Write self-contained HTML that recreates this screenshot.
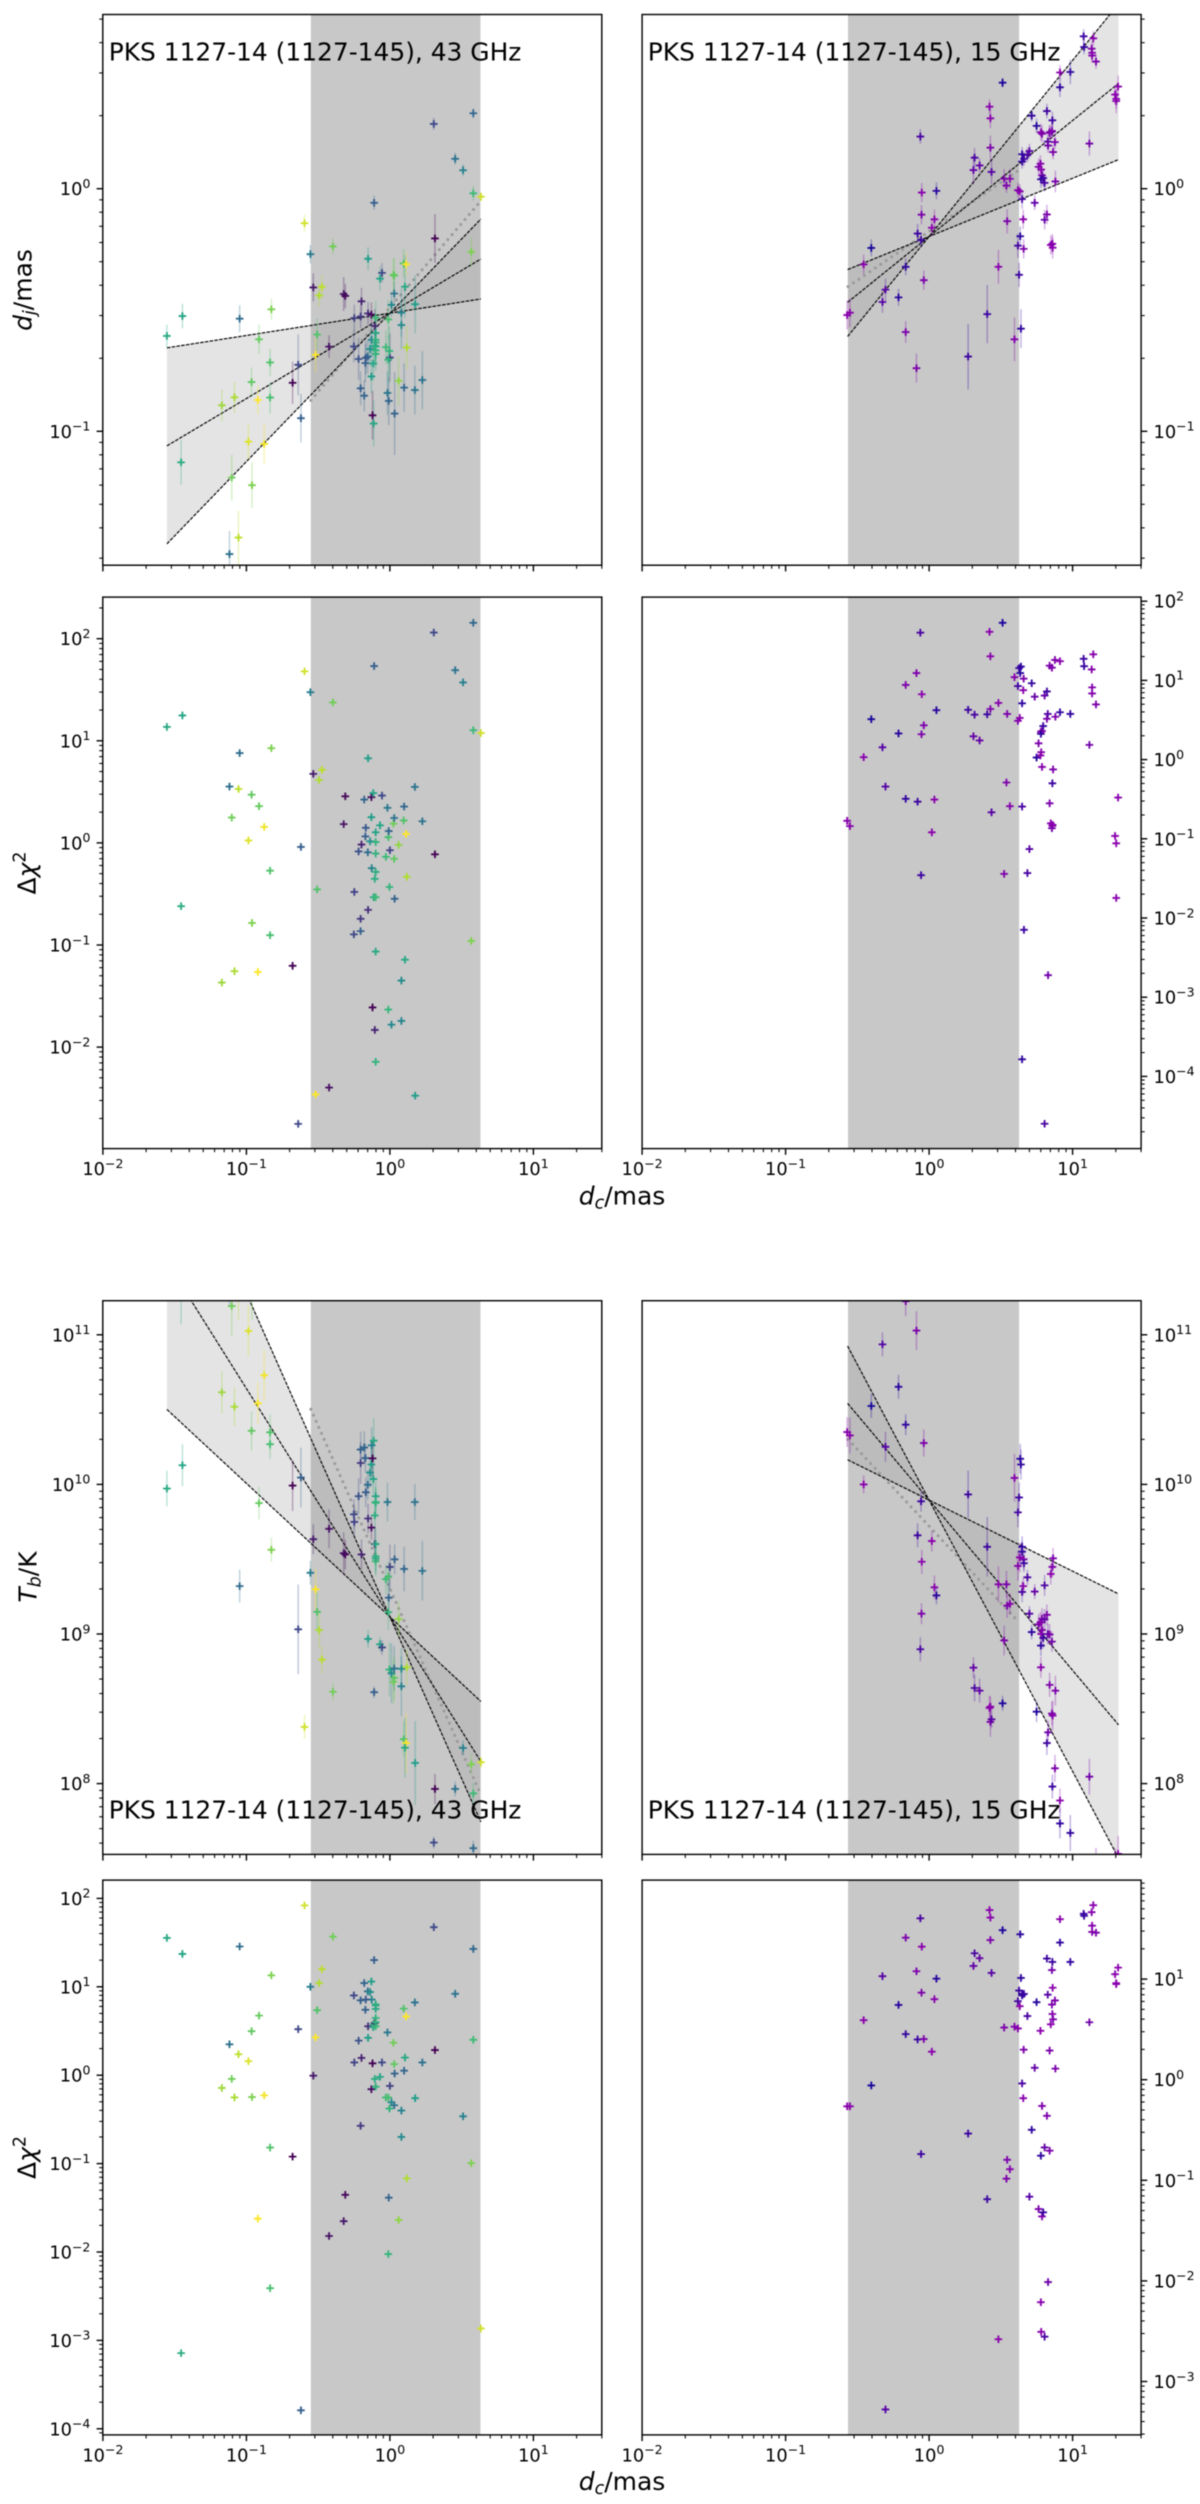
<!DOCTYPE html>
<html lang="en">
<head>
<meta charset="utf-8">
<title>PKS 1127-14 (1127-145) jet profiles at 43 and 15 GHz</title>
<style>
html,body{margin:0;padding:0;background:#fff;}
svg{display:block;filter:blur(0.45px);}
text{font-family:"DejaVu Sans","Liberation Sans",sans-serif;fill:#000;}
</style>
</head>
<body>
<svg id="figure" width="1200" height="2504" viewBox="0 0 1200 2504">
  <rect width="1200" height="2504" fill="#fff"/>

  <g id="panel-a"></g>
  <g id="panel-b"></g>
  <g id="panel-c"></g>
  <g id="panel-d"></g>
  <g id="panel-e"></g>
  <g id="panel-f"></g>
  <g id="panel-g"></g>
  <g id="panel-h"></g>

  <text x="108.7" y="60.5" font-size="24.9">PKS 1127-14 (1127-145), 43 GHz</text>
  <text x="647.8" y="60.5" font-size="24.9">PKS 1127-14 (1127-145), 15 GHz</text>
  <text x="108.7" y="1818.5" font-size="24.9">PKS 1127-14 (1127-145), 43 GHz</text>
  <text x="647.8" y="1818.5" font-size="24.9">PKS 1127-14 (1127-145), 15 GHz</text>

  <text x="31.6" y="290" font-size="25" text-anchor="middle" transform="rotate(-90 31.6 290)"><tspan font-style="italic">d</tspan><tspan font-style="italic" font-size="17.5" dy="4">j</tspan><tspan dy="-4">/mas</tspan></text>
  <text x="35.6" y="873" font-size="25" text-anchor="middle" transform="rotate(-90 35.6 873)">Δ<tspan font-style="italic">χ</tspan><tspan font-size="17.5" dy="-10">2</tspan></text>
  <text x="36.4" y="1577" font-size="25" text-anchor="middle" transform="rotate(-90 36.4 1577)"><tspan font-style="italic">T</tspan><tspan font-style="italic" font-size="17.5" dy="4">b</tspan><tspan dy="-4">/K</tspan></text>
  <text x="35.6" y="2157.5" font-size="25" text-anchor="middle" transform="rotate(-90 35.6 2157.5)">Δ<tspan font-style="italic">χ</tspan><tspan font-size="17.5" dy="-10">2</tspan></text>

  <text x="622" y="1204.5" font-size="25" text-anchor="middle"><tspan font-style="italic">d</tspan><tspan font-style="italic" font-size="17.5" dy="4">c</tspan><tspan dy="-4">/mas</tspan></text>
  <text x="622" y="2490" font-size="25" text-anchor="middle"><tspan font-style="italic">d</tspan><tspan font-style="italic" font-size="17.5" dy="4">c</tspan><tspan dy="-4">/mas</tspan></text>
</svg>

<script>
// ---- 43 GHz data, all in log10 units ----
const logDc43 = [
-1.554,-1.446,-1.455,-1.047,-1.118,-1.171,-1.102,-1.083,-1.055,-.986,
-.964,-.961,-.920,-.912,-.876,-.835,-.835,-.826,-.678,-.639,
-.620,-.595,-.554,-.534,-.518,-.507,-.493,-.474,-.424,-.397,
-.322,-.311,-.248,-.251,-.218,-.204,-.198,-.204,-.179,-.171,
-.152,-.152,-.154,-.138,-.129,-.129,-.127,-.121,-.113,-.116,
-.110,-.105,-.099,-.099,-.105,-.099,-.099,-.069,-.055,-.028,
-.017,-.011,-.008,0,-.003,-.011,.011,.025,.033,.030,
.061,.080,.080,.096,.099,.113,.105,.118,.174,.176,
.226,.306,.314,.455,.510,.567,.581,.581,.634,-.099,
-.099,-.168,-.099,.030];
const epoch43 = [
.60,.58,.62,.35,.37,.85,.78,.87,.90,.95,
.75,.80,1,.76,.98,.72,.70,.80,0,.22,
.30,.93,.42,.07,1,.72,.88,.90,.05,.78,
.06,.02,.20,.22,.25,.17,.10,.30,.32,.30,
.13,.55,.35,.50,.03,.55,.45,0,.60,.58,
.30,.10,.58,.65,.62,.64,.68,.58,.22,.68,
.40,.70,.32,.20,.65,.66,.47,.78,.32,.38,
.83,.45,.48,.72,.33,1,.60,.88,.38,.55,
.38,.22,0,.37,.44,.80,.33,.68,.93,.62,
.60,.28,.65,.75];
const logDj43 = [
-.607,-.525,-1.128,-.536,-1.506,-.893,-1.191,-.860,-1.438,-1.043,
-.797,-1.222,-.871,-.621,-1.052,-.716,-.861,-.497,-.800,-.726,
-.946,-.142,-.270,-.407,-.685,-.601,-.440,-.405,-.651,-.238,
-.434,-.442,-.533,-.650,-.702,-.527,-.464,-.823,-.853,-.719,
-.514,-.289,-.692,-.661,-.519,-.774,-.623,-.934,-.968,-.721,
-.058,-.566,-.595,-.623,-.647,-.681,-.532,-.371,-.347,-.653,
-.842,-.539,-.875,-.696,-.669,-.705,-.479,-.355,-.927,-.432,
-.792,-.511,-.562,-.308,-.820,-.311,-.404,-.655,-.830,-.476,
-.789,.267,-.205,.123,.076,-.260,.311,-.019,-.033,-.634,
-.650,-.697,-.666,-.358];
const djErr43 = [
.046,.05,.092,.055,.095,.066,.095,.065,.11,.073,
.06,.095,.058,.06,.084,.057,.066,.044,.087,.126,
.1,.035,.038,.058,.07,.066,.047,.05,.047,.033,
.07,.05,.055,.066,.087,.047,.055,.07,.065,.08,
.047,.047,.07,.07,.05,.07,.07,.1,.095,.07,
.03,.07,.07,.07,.07,.07,.07,.05,.04,.07,
.09,.08,.1,.1,.1,.1,.05,.07,.17,.05,
.1,.1,.1,.06,.1,.05,.13,.09,.1,.12,
.12,.025,.1,.025,.025,.06,.02,.03,.02,.07,
.07,.07,.07,.07];
const logChiWidth43 = [
1.136,1.248,-.620,.880,.552,-1.368,.248,-1.256,.528,.024,
.472,-.784,-1.264,.360,.156,-.272,-.904,.928,-1.204,-2.752,
-.040,1.680,1.476,.676,-2.464,-.456,.616,.716,-2.396,1.376,
.184,.456,-.480,-.896,-.084,-.744,-.016,-.864,.424,.064,
-.656,.828,-.092,.016,.448,.252,-.248,-1.612,-.532,.488,
1.732,-1.832,.104,.008,-.352,-.104,-.532,.172,.464,-.136,
.344,.056,.116,-.072,-.432,-1.632,-1.780,.188,-.548,.244,
-.020,-1.744,-1.348,.220,.356,.088,-1.144,-.332,.548,-2.476,
.212,2.060,-.112,1.692,1.572,-.960,2.156,1.104,1.076,-.284,
-1.064,.148,-2.144,-.156];
const logTb43 = [
9.972,10.128,11.29,9.320,11.4,10.616,11.192,10.519,11.3,11.026,
10.358,11.3,10.542,9.875,10.729,10.348,10.269,9.563,9.992,9.031,
10.046,8.379,9.409,9.634,9.299,9.148,9.026,8.829,9.703,8.614,
9.540,9.532,9.749,9.800,9.921,10.143,9.532,10.233,10.246,10.176,
9.772,8.967,9.997,10.079,9.711,10.133,10.261,10.174,10.292,10.036,
8.611,9.601,9.921,9.882,9.793,9.519,9.486,8.931,8.910,9.366,
9.882,9.384,9.243,9.448,8.762,9.146,8.737,8.680,9.499,8.770,
9.100,8.650,8.767,8.297,9.435,8.271,8.240,8.778,9.882,8.138,
9.422,7.606,7.964,7.964,8.238,8.130,7.568,7.934,8.143,9.504,
9.601,9.947,9.877,8.706];
const tbErr43 = [
.12,.14,.22,.11,.2,.14,.2,.13,.2,.17,
.13,.2,.14,.11,.17,.12,.1,.08,.17,.3,
.2,.08,.08,.1,.14,.13,.12,.09,.13,.06,
.14,.1,.1,.1,.12,.14,.1,.12,.11,.1,
.1,.06,.1,.1,.08,.1,.12,.12,.15,.1,
.04,.12,.1,.1,.1,.1,.1,.05,.05,.1,
.13,.1,.12,.15,.18,.12,.2,.15,.1,.15,
.12,.2,.14,.12,.15,.2,.2,.12,.12,.28,
.2,.04,.1,.05,.05,.07,.05,.07,.04,.1,
.1,.1,.1,.15];
const logChiTb43 = [
1.553,1.372,-3.144,1.456,.349,-.144,-.042,-.251,.237,.158,
.498,-.247,-1.623,.674,-.228,-.819,-2.409,1.130,-.921,.521,
-3.791,1.921,1.000,-.005,.428,.735,1.042,1.200,-1.819,1.567,
-1.651,-1.353,.144,.902,.391,-.572,.195,.847,1.042,.740,
.553,.423,.949,.940,-.158,1.060,.856,.135,.577,.544,
1.302,.591,.791,.647,-.042,-.130,.553,-.019,.144,-.251,
.484,-.251,-1.386,-.121,-.377,-2.023,-.307,.367,.019,-.340,
-1.637,-.400,-.698,.753,.051,.665,.200,-1.167,.823,-.260,
.144,1.674,.284,.921,-.465,-.995,1.428,.400,-2.865,.8,
.75,.856,.6,.126];

// ---- 15 GHz data, all in log10 units ----
const logDc15 = [
-.571,-.552,-.456,-.403,-.325,-.304,-.213,-.163,-.163,-.088,
-.080,-.061,-.056,-.051,-.053,-.037,.019,.037,.051,.272,
.309,.317,.352,.405,.421,.427,.427,.435,.483,.512,
.523,.539,.544,.563,.595,.627,.619,.619,.632,.635,
.640,.648,.648,.648,.659,.656,.661,.685,.699,.715,
.736,.749,.763,.776,.779,.781,.787,.787,.779,.795,
.805,.805,.821,.821,.827,.829,.840,.856,.859,.848,
.859,.861,.864,.877,.880,.912,.912,.984,1.077,1.080,
1.117,1.133,1.136,1.144,1.163,1.296,1.304,1.317,1.304,1.136,
.84,.856];
const epoch15 = [
.9,.9,.9,0,.5,.5,.15,.2,.8,.8,
.3,.4,.3,.9,.8,.8,.9,.9,.15,.3,
.6,.4,.6,.3,.9,.9,.8,.5,.9,.05,
.8,.8,.8,.85,.85,.3,.35,.85,.9,.15,
.2,.4,.2,.2,.8,.9,.3,.4,.5,.2,
.6,.1,.8,.9,.9,.9,.8,.85,.2,.3,
.4,.6,.8,.3,.5,.7,.8,.7,.3,.9,
.85,.9,.8,.8,.8,.9,.2,.2,.3,.25,
.7,.85,.85,.9,.8,.9,.9,.9,.9,.85,
.8,.8];
const logDj15 = [
-.521,-.511,-.312,-.244,-.467,-.416,-.448,-.322,-.591,-.740,
-.185,.215,-.211,-.016,-.107,-.377,-.161,-.126,-.009,-.692,
.077,.128,.096,-.517,.338,.290,.169,.069,-.322,.437,
.041,.013,-.134,.041,-.621,-.355,-.235,-.006,-.011,-.196,
-.577,-.043,.142,.112,-.248,-.126,.123,.139,.155,.301,
-.058,.259,.090,.103,.233,.079,.226,.055,.039,.044,
.024,-.128,-.106,.320,.194,.178,.233,.238,.282,-.232,
-.227,-.243,.151,.192,.030,.479,.418,.481,.628,.584,
.186,.577,.549,.620,.524,.388,.361,.421,.37,.56,
.23,.235];
const djErr15 = [
.06,.06,.04,.035,.045,.045,.035,.035,.045,.06,
.04,.03,.03,.04,.04,.04,.035,.04,.035,.135,
.06,.04,.03,.12,.03,.04,.05,.05,.07,.02,
.04,.03,.05,.04,.09,.05,.05,.03,.03,.04,
.08,.04,.03,.03,.04,.04,.03,.03,.03,.025,
.03,.03,.035,.035,.035,.035,.035,.035,.035,.035,
.035,.04,.04,.03,.03,.03,.03,.03,.035,.04,
.04,.045,.03,.03,.045,.03,.04,.05,.03,.03,
.05,.03,.03,.03,.03,.04,.05,.045,.04,.03,
.03,.03];
const logChiWidth15 = [
-.773,-.840,.031,.510,.155,-.340,.330,-.495,.943,1.093,
-.531,1.603,-1.459,.825,.320,.433,-.918,-.505,.624,.629,
.294,.567,.242,.572,1.613,1.304,.639,-.665,.716,1.727,
-1.443,-.289,.577,-.588,1.041,1.155,.928,.490,.526,1.093,
1.175,-.593,-3.784,.711,1.021,.876,-2.149,-1.433,-1.129,.964,
.794,.026,.206,.052,.351,.093,.361,-.093,.325,.423,
-4.598,.809,.515,.861,.577,-2.722,-.552,-.866,-.299,-.804,
-.835,-.825,-.124,1.258,.541,1.242,.598,.577,1.273,1.180,
.186,1.139,.912,1.330,.696,-.964,-1.057,-.479,-1.747,.835,
1.186,1.16];
const logTb15 = [
10.350,10.327,10.000,10.524,10.936,10.251,10.652,10.399,11.225,11.028,
9.660,8.898,9.887,9.483,9.136,10.276,9.621,9.312,9.258,9.933,
8.775,8.639,8.621,9.583,8.506,8.514,8.412,8.430,9.332,8.537,
8.957,9.332,9.189,9.202,10.043,9.913,9.813,9.455,9.512,10.171,
10.133,9.281,9.583,9.550,9.499,9.320,9.473,9.379,9.136,9.013,
9.284,8.481,9.064,9.077,8.777,9.000,9.102,9.026,8.923,8.974,
9.325,9.097,9.128,8.271,9.000,8.343,8.997,8.949,7.980,9.401,
9.448,8.455,9.506,8.102,8.621,7.887,7.734,7.670,7.3,7.3,
8.046,7.3,7.35,7.4,7.45,7.45,7.4,7.53,7.4,7.3,
8.660,8.468];
const tbErr15 = [
.1,.12,.06,.08,.08,.1,.08,.07,.1,.13,
.08,.08,.07,.08,.07,.09,.07,.08,.06,.16,
.07,.09,.08,.2,.08,.07,.1,.06,.12,.05,
.1,.09,.08,.07,.16,.1,.1,.1,.1,.1,
.1,.07,.07,.07,.07,.06,.06,.05,.05,.05,
.05,.07,.07,.07,.07,.07,.07,.07,.07,.07,
.07,.07,.07,.08,.07,.08,.07,.07,.08,.07,
.07,.1,.07,.09,.1,.08,.1,.12,.12,.12,
.12,.12,.12,.12,.12,.12,.12,.12,.12,.12,
.08,.08];
const logChiTb15 = [
-.265,-.265,.592,-.057,1.029,-3.278,.743,.453,1.412,1.078,
.400,1.604,-.739,1.322,.865,.404,.278,.800,1.004,-.535,
1.131,1.257,1.208,-1.188,1.686,1.612,1.388,1.061,-2.580,1.486,
.518,-.984,-.796,-.890,.527,.886,.780,.510,.731,1.445,
1.012,-.037,.837,.853,.298,-.184,.853,.633,-1.163,-.498,
.118,.771,-1.286,.486,-2.212,-2.506,-.261,-1.359,-.755,-1.318,
-2.555,-.673,-.359,1.204,.845,-2.012,-.706,1.090,1.171,.551,
.653,.914,.600,.788,.110,1.596,1.363,1.171,1.649,1.629,
.571,1.665,1.531,1.735,1.461,1.049,.959,1.114,.951,1.469,
.290,.747];

// ---- Shaded ranges and fits ----
const coreRange43 = [-.551, .631];
const coreRange15 = [-.565, .627];
const fitRange43 = [-1.554, .634];
const fitRange15 = [-.568, 1.32];
const djFitSlopes43 = [.092, .352, .612];
const djFitPivot43 = -.513;
const djTrend43 = [.694, -.490];
const djFitSlopes15 = [.24, .478, .726];
const djFitPivot15 = -.197;
const djTrend15 = [.403, -.176];
const tbFitSlopes43 = [-.892, -1.526, -2.163];
const tbFitPivot43 = 9.115;
const tbTrend43 = [-2.175, 9.304];
const tbFitSlopes15 = [-.475, -1.138, -1.813];
const tbFitPivot15 = 9.895;
const tbTrend15 = [-1.027, 9.721];

// ---- Tick exponents ----
const xTickExponents = [-2, -1, 0, 1];
const yTicksWidth = [0, -1];
const yTicksChiWidth43 = [2, 1, 0, -1, -2];
const yTicksChiWidth15 = [2, 1, 0, -1, -2, -3, -4];
const yTicksTb = [11, 10, 9, 8];
const yTicksChiTb43 = [2, 1, 0, -1, -2, -3, -4];
const yTicksChiTb15 = [1, 0, -1, -2, -3];

const viridisStops = [[68,1,84],[72,40,120],[62,73,137],[49,104,142],[38,130,142],[31,158,137],[53,183,121],[110,206,88],[181,222,43],[253,231,37]];
const blueStop = [22,6,155];
const purpleStop = [150,0,175];

const root = document.getElementById('figure');
const svgNS = root.namespaceURI;

function viridis(t) {
  const p = Math.max(0, Math.min(1, t)) * (viridisStops.length - 1);
  const i = Math.min(Math.floor(p), viridisStops.length - 2);
  const f = p - i;
  const a = viridisStops[i], b = viridisStops[i + 1];
  return 'rgb(' + a.map((v, k) => Math.round(v + (b[k] - v) * f)).join(',') + ')';
}
function bluePurple(t) {
  return 'rgb(' + blueStop.map((v, k) => Math.round(v + (purpleStop[k] - v) * t)).join(',') + ')';
}
function mk(parent, tag, attrs) {
  const el = document.createElementNS(svgNS, tag);
  for (const k in attrs) el.setAttribute(k, attrs[k]);
  parent.appendChild(el);
  return el;
}
function makeAxes(left, right, top, bottom, yRefPx, yRefLog, yPerDec, xZeroPx) {
  const xPerDec = 143.5;
  return {
    left, right, top, bottom, yRefPx, yRefLog, yPerDec, xPerDec, xZeroPx,
    x: v => xZeroPx + v * xPerDec,
    y: v => yRefPx - (v - yRefLog) * yPerDec
  };
}

function drawCore(g, ax, range) {
  const el = mk(g, 'rect', {x: ax.x(range[0]), y: ax.top, width: ax.x(range[1]) - ax.x(range[0]), height: ax.bottom - ax.top, fill: '#c8c8c8'});
  
  
}
function drawBand(g, ax, range, slopes, pivot, fill) {
  const hi = v => Math.max(...slopes.map(s => pivot + s * v));
  const lo = v => Math.min(...slopes.map(s => pivot + s * v));
  const pts = [[range[0], hi(range[0])], [0, pivot], [range[1], hi(range[1])], [range[1], lo(range[1])], [0, pivot], [range[0], lo(range[0])]];
  const band = mk(g, 'polygon', {points: pts.map(p => ax.x(p[0]) + ',' + ax.y(p[1])).join(' '), fill: fill});
  
  
}
function drawFitLines(g, ax, range, core, slopes, pivot, trend) {
  const dotted = mk(g, 'line', {x1: ax.x(core[0]), y1: ax.y(trend[1] + trend[0] * core[0]), x2: ax.x(core[1]), y2: ax.y(trend[1] + trend[0] * core[1]), stroke: '#9a9a9a', 'stroke-width': 3, 'stroke-dasharray': '0 6.6', 'stroke-linecap': 'round'});
  
  
  slopes.forEach(s => {
    const line = mk(g, 'line', {x1: ax.x(range[0]), y1: ax.y(pivot + s * range[0]), x2: ax.x(range[1]), y2: ax.y(pivot + s * range[1]), stroke: '#000', 'stroke-width': 1.15, 'stroke-dasharray': '3.6 1.2'});
    
    
  });
}
function drawPoints(g, ax, xs, ys, errs, epochs, colorFn) {
  if (errs) {
    xs.forEach((xv, i) => {
      const bar = mk(g, 'line', {x1: ax.x(xv), x2: ax.x(xv), y1: ax.y(ys[i] - errs[i]), y2: ax.y(ys[i] + errs[i]), stroke: colorFn(epochs[i]), 'stroke-width': 1.5, 'stroke-opacity': 0.3});
      
      
    });
  }
  xs.forEach((xv, i) => {
    const cx = ax.x(xv), cy = ax.y(ys[i]);
    const mark = mk(g, 'path', {d: 'M' + (cx - 3.8) + ' ' + cy + 'H' + (cx + 3.8) + 'M' + cx + ' ' + (cy - 3.8) + 'V' + (cy + 3.8), stroke: colorFn(epochs[i]), 'stroke-width': 1.85, fill: 'none'});
    
    
  });
}
function tickLabel(g, x, y, anchor, exponent) {
  const t = mk(g, 'text', {x: x, y: y, 'font-size': 17.8, 'text-anchor': anchor});
  
  
  t.appendChild(document.createTextNode('10'));
  const sup = mk(t, 'tspan', {dy: -7.2, 'font-size': 12.5});
  sup.textContent = String(exponent).replace('-', '\u2212');
}
function drawAxes(g, ax, yTicks, side, showXLabels) {
  const frame = mk(g, 'rect', {x: ax.left, y: ax.top, width: ax.right - ax.left, height: ax.bottom - ax.top, fill: 'none', stroke: '#000', 'stroke-width': 1.4});
  
  

  const tick = (x1, y1, x2, y2, w, name) => {
    const el = mk(g, 'line', {x1, y1, x2, y2, stroke: '#000', 'stroke-width': w});
    
    
  };
  // x ticks
  for (let d = -2; d <= 1; d++) {
    tick(ax.x(d), ax.bottom, ax.x(d), ax.bottom + 6.2, 1.4, 'x-major-tick');
    for (let m = 2; m <= 9; m++) {
      const px = ax.x(d + Math.log10(m));
      if (px <= ax.right + 0.5) tick(px, ax.bottom, px, ax.bottom + 3.6, 1.05, 'x-minor-tick');
    }
  }
  if (showXLabels) xTickExponents.forEach(e => tickLabel(g, ax.x(e), ax.bottom + 26.5, 'middle', e));
  // y ticks
  const dir = side === 'left' ? -1 : 1;
  const edge = side === 'left' ? ax.left : ax.right;
  const lowDec = Math.floor(ax.yRefLog - (ax.bottom - ax.yRefPx) / ax.yPerDec);
  const highDec = Math.ceil(ax.yRefLog + (ax.yRefPx - ax.top) / ax.yPerDec);
  for (let d = lowDec; d <= highDec; d++) {
    const py = ax.y(d);
    if (py >= ax.top - 0.5 && py <= ax.bottom + 0.5) tick(edge, py, edge + dir * 6.2, py, 1.4, 'y-major-tick');
    for (let m = 2; m <= 9; m++) {
      const pm = ax.y(d + Math.log10(m));
      if (pm >= ax.top && pm <= ax.bottom) tick(edge, pm, edge + dir * 3.6, pm, 1.05, 'y-minor-tick');
    }
  }
  yTicks.forEach(e => tickLabel(g, edge + dir * 12.4, ax.y(e) + 6.5, side === 'left' ? 'end' : 'start', e));
}
function panel(id, ax, cfg) {
  const host = document.getElementById(id);
  const clip = mk(host, 'clipPath', {id: 'clip-' + id});
  mk(clip, 'rect', {x: ax.left, y: ax.top, width: ax.right - ax.left, height: ax.bottom - ax.top});
  const coreClip = mk(host, 'clipPath', {id: 'core-clip-' + id});
  mk(coreClip, 'rect', {x: ax.x(cfg.core[0]), y: ax.top, width: ax.x(cfg.core[1]) - ax.x(cfg.core[0]), height: ax.bottom - ax.top});
  const marks = mk(host, 'g', {'clip-path': 'url(#clip-' + id + ')'});
  if (cfg.slopes) drawBand(marks, ax, cfg.fitRange, cfg.slopes, cfg.pivot, '#e4e4e4');
  drawCore(marks, ax, cfg.core);
  if (cfg.slopes) {
    const inner = mk(marks, 'g', {'clip-path': 'url(#core-clip-' + id + ')'});
    drawBand(inner, ax, cfg.fitRange, cfg.slopes, cfg.pivot, '#bcbcbc');
    drawFitLines(marks, ax, cfg.fitRange, cfg.core, cfg.slopes, cfg.pivot, cfg.trend);
  }
  drawPoints(marks, ax, cfg.xs, cfg.ys, cfg.errs, cfg.epochs, cfg.colorFn);
  drawAxes(host, ax, cfg.yTicks, cfg.side, cfg.showXLabels);
}

panel('panel-a', makeAxes(102.8, 601.8, 14.5, 565.2, 188.7, 0, 242.6, 389.9), {
  core: coreRange43, fitRange: fitRange43, slopes: djFitSlopes43, pivot: djFitPivot43, trend: djTrend43,
  xs: logDc43, ys: logDj43, errs: djErr43, epochs: epoch43, colorFn: viridis,
  yTicks: yTicksWidth, side: 'left', showXLabels: false
});
panel('panel-b', makeAxes(642.1, 1141.1, 14.5, 565.2, 188.7, 0, 242.6, 929.1), {
  core: coreRange15, fitRange: fitRange15, slopes: djFitSlopes15, pivot: djFitPivot15, trend: djTrend15,
  xs: logDc15, ys: logDj15, errs: djErr15, epochs: epoch15, colorFn: bluePurple,
  yTicks: yTicksWidth, side: 'right', showXLabels: false
});
panel('panel-c', makeAxes(102.8, 601.8, 597.1, 1148.6, 842.9, 0, 102.1, 389.9), {
  core: coreRange43, xs: logDc43, ys: logChiWidth43, epochs: epoch43, colorFn: viridis,
  yTicks: yTicksChiWidth43, side: 'left', showXLabels: true
});
panel('panel-d', makeAxes(642.1, 1141.1, 597.1, 1148.6, 759.6, 0, 79.2, 929.1), {
  core: coreRange15, xs: logDc15, ys: logChiWidth15, epochs: epoch15, colorFn: bluePurple,
  yTicks: yTicksChiWidth15, side: 'right', showXLabels: true
});
panel('panel-e', makeAxes(102.8, 601.8, 1300.7, 1854.4, 1634, 9, 149.6, 389.9), {
  core: coreRange43, fitRange: fitRange43, slopes: tbFitSlopes43, pivot: tbFitPivot43, trend: tbTrend43,
  xs: logDc43, ys: logTb43, errs: tbErr43, epochs: epoch43, colorFn: viridis,
  yTicks: yTicksTb, side: 'left', showXLabels: false
});
panel('panel-f', makeAxes(642.1, 1141.1, 1300.7, 1854.4, 1634, 9, 149.6, 929.1), {
  core: coreRange15, fitRange: fitRange15, slopes: tbFitSlopes15, pivot: tbFitPivot15, trend: tbTrend15,
  xs: logDc15, ys: logTb15, errs: tbErr15, epochs: epoch15, colorFn: bluePurple,
  yTicks: yTicksTb, side: 'right', showXLabels: false
});
panel('panel-g', makeAxes(102.8, 601.8, 1880.1, 2434.9, 2075.2, 0, 88.4, 389.9), {
  core: coreRange43, xs: logDc43, ys: logChiTb43, epochs: epoch43, colorFn: viridis,
  yTicks: yTicksChiTb43, side: 'left', showXLabels: true
});
panel('panel-h', makeAxes(642.1, 1141.1, 1880.1, 2434.9, 2079.7, 0, 100.6, 929.1), {
  core: coreRange15, xs: logDc15, ys: logChiTb15, epochs: epoch15, colorFn: bluePurple,
  yTicks: yTicksChiTb15, side: 'right', showXLabels: true
});
</script>
</body>
</html>
